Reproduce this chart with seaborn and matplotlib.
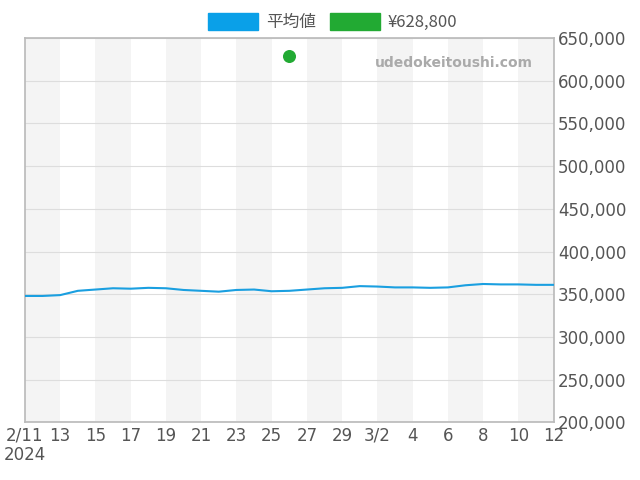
import numpy as np
import pandas as pd
import matplotlib
matplotlib.use("Agg")
import matplotlib.pyplot as plt
import matplotlib.patches as mpatches
import seaborn as sns

dates = pd.date_range("2024-02-11", "2024-03-12", freq="D")
avg_price = [348000, 348000, 349000, 354000, 355500, 357000, 356500, 357500, 357000, 355000,
             354000, 353000, 355000, 355500, 353500, 354000, 355500, 357000, 357500, 359500,
             359000, 358000, 358000, 357500, 358000, 360500, 362000, 361500, 361500, 361000, 361000]
point_date = pd.Timestamp("2024-02-26")
point_price = 628800
tick_labels = ["2/11\n2024", "13", "15", "17", "19", "21", "23", "25", "27", "29",
               "3/2", "4", "6", "8", "10", "12"]

sns.set_theme(style="white")
plt.rcParams['font.family'] = ['DejaVu Sans', 'Noto Sans CJK JP']

fig, ax = plt.subplots(figsize=(6.4, 4.8), dpi=100)
fig.subplots_adjust(left=0.039, right=0.865, top=0.921, bottom=0.12)

x = np.arange(len(dates))
# 2日ごとの背景の縞
for i in range(0, len(dates) - 1, 4):
    ax.axvspan(i, i + 2, color="#f4f4f4", zorder=0, lw=0)

sns.lineplot(x=x, y=avg_price, ax=ax, color="#1a9fe0", lw=1.5, zorder=3)
pi = (point_date - dates[0]).days
ax.scatter([pi], [point_price], color="#22aa33", s=70, zorder=4)

ax.set_xlim(0, len(dates) - 1)
ax.set_ylim(200000, 650000)
ax.set_xticks(np.arange(0, len(dates), 2))
ax.set_xticklabels(tick_labels, fontsize=12, color="#555555", linespacing=1.1)
ax.yaxis.tick_right()
ax.set_yticks(np.arange(200000, 650001, 50000))
ax.set_yticklabels([f"{v:,}" for v in range(200000, 650001, 50000)], fontsize=12, color="#555555")
ax.grid(axis="y", color="#dddddd", lw=0.8)
ax.tick_params(length=0, pad=3)
for s in ax.spines.values():
    s.set_color("#bbbbbb")

ax.text(0.96, 0.935, "udedokeitoushi.com", transform=ax.transAxes, ha="right", va="center",
        fontsize=10, color="#aaaaaa", fontweight="bold")

handles = [mpatches.Patch(color="#0aa0e8", label="平均値"),
           mpatches.Patch(color="#22aa33", label="¥628,800")]
fig.legend(handles=handles, loc="upper center", bbox_to_anchor=(0.52, 1.005), ncol=2, frameon=False,
           fontsize=12, handlelength=3, handleheight=1.2, columnspacing=0.8, handletextpad=0.5,
           labelcolor="#555555", prop={'family': ['Noto Sans CJK JP', 'DejaVu Sans'], 'size': 12})

fig.savefig("out.png", dpi=100)
